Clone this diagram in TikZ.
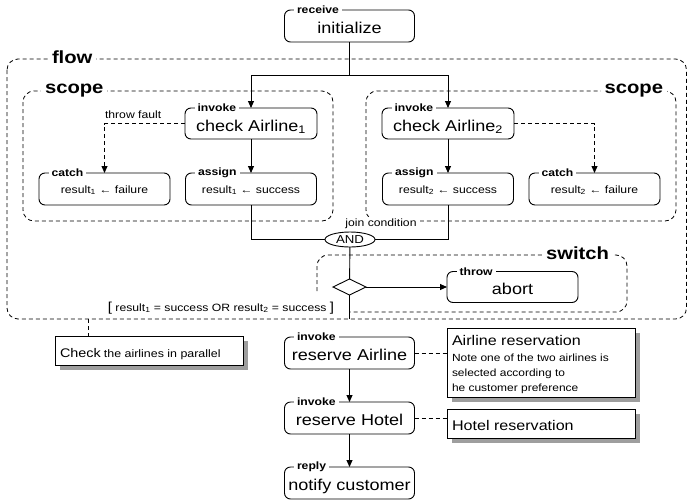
\documentclass[tikz,border=0pt]{standalone}
\usepackage{fontspec}
\setmainfont{Liberation Sans}[FakeStretch=1.15]
\usetikzlibrary{arrows.meta,shapes.geometric,shadows}

\newcommand{\bigtxt}{\fontsize{15.7}{17}\selectfont}
\newcommand{\smalltxt}{\fontsize{10.6}{12}\selectfont}
\newcommand{\bracketed}[1]{{\fontsize{13}{14}\selectfont[}\ #1\ {\fontsize{13}{14}\selectfont]}}

\begin{document}
\begin{tikzpicture}[x=1pt,y=-1pt,
  every node/.style={inner sep=0pt, outer sep=0pt},
  wire/.style={line width=0.9pt},
  tip/.style={-{Triangle[length=7pt,width=6pt]}},
  hint/.style={line width=0.8pt, dash pattern=on 4pt off 3pt},
  activity/.style={draw, line width=0.9pt, rounded corners=6pt,
    minimum width=130pt, minimum height=32pt,
    font=\bigtxt, text height=15pt, text depth=0pt},
  small activity/.style={activity, minimum width=131pt,
    font=\smalltxt, text height=8pt},
  kind/.style={fill=white, inner xsep=3pt, inner ysep=1pt, anchor=west,
    font=\bfseries\fontsize{10.6}{12}\selectfont},
  region/.style={hint, rounded corners=11pt},
  region label/.style={fill=white, inner xsep=4pt, inner ysep=1pt,
    font=\bfseries\fontsize{17.6}{18}\selectfont},
  note/.style={draw, line width=0.9pt, fill=white,
    drop shadow={shadow xshift=4.5pt, shadow yshift=-4.5pt,
      fill=black!38, opacity=1}},
]
\useasboundingbox (0,0) rectangle (688,501);

% ---------- regions ----------
\draw[region] (7,59) rectangle (686.5,319);
\node[region label, anchor=base west] (flow-l) at (48,63) {flow};

\draw[region] (23,91) rectangle (333,221);
\node[region label, anchor=base west] (sc1-l) at (41,93) {scope};

\draw[region] (366,91) rectangle (676,221);
\node[region label, anchor=base east] (sc2-l) at (667,93) {scope};

\draw[region] (317,291) -- (317,255) -- (627,255) -- (627,312) -- (350,312);
\node[region label, anchor=base east] (sw-l) at (613,259) {switch};

\node[fill=white, inner xsep=3pt, inner ysep=1pt, font=\smalltxt, anchor=base]
  (jc) at (381,226) {join condition};

% ---------- activities ----------
\node[activity] (init) at (349.5,26) {initialize};
\node[kind] (init-k) at ([xshift=9.5pt]init.north west) {receive};

\node[activity, minimum width=132pt, minimum height=31pt] (ca1) at (251,123.5)
  {check Airline\textsubscript{1}};
\node[kind] (ca1-k) at ([xshift=9.5pt]ca1.north west) {invoke};
\node[activity, minimum width=132pt, minimum height=31pt] (ca2) at (448,123.5)
  {check Airline\textsubscript{2}};
\node[kind] (ca2-k) at ([xshift=9.5pt]ca2.north west) {invoke};

\node[small activity] (cat1) at (104.5,189) {result\textsubscript{1} ← failure};
\node[kind] (cat1-k) at ([xshift=9.5pt]cat1.north west) {catch};
\node[small activity] (as1) at (251,189) {result\textsubscript{1} ← success};
\node[kind] (as1-k) at ([xshift=9.5pt]as1.north west) {assign};
\node[small activity] (as2) at (448,189) {result\textsubscript{2} ← success};
\node[kind] (as2-k) at ([xshift=9.5pt]as2.north west) {assign};
\node[small activity] (cat2) at (594.5,189) {result\textsubscript{2} ← failure};
\node[kind] (cat2-k) at ([xshift=9.5pt]cat2.north west) {catch};

\node[draw, wire, ellipse, minimum width=50pt, minimum height=15pt,
  font=\fontsize{11.5}{12}\selectfont] (and) at (350,239.5) {AND};
\node[draw, wire, diamond, minimum width=33pt, minimum height=16pt]
  (dia) at (349.5,287) {};

\node[activity, minimum width=131pt, minimum height=31pt] (abort) at (512.5,287) {abort};
\node[kind] (abort-k) at ([xshift=9.5pt]abort.north west) {throw};

\node[activity] (ra) at (349.5,353) {reserve Airline};
\node[kind] (ra-k) at ([xshift=9.5pt]ra.north west) {invoke};
\node[activity] (rh) at (349.5,418) {reserve Hotel};
\node[kind] (rh-k) at ([xshift=9.5pt]rh.north west) {invoke};
\node[activity] (rep) at (349.5,483) {notify customer};
\node[kind] (rep-k) at ([xshift=9.5pt]rep.north west) {reply};

% ---------- control flow ----------
\coordinate (split) at (349.5,75);
\draw[wire] (init) -- (split);
\draw[wire, tip] (split) -| (ca1);
\draw[wire, tip] (split) -| (ca2);
\draw[wire, tip] (ca1) -- (as1);
\draw[wire, tip] (ca2) -- (as2);
\draw[hint, tip] (ca1) -| (cat1);
\draw[hint, tip] (ca2) -| (cat2);
\node[anchor=base west, font=\smalltxt] (tf) at (105,118) {throw fault};

\draw[wire] (as1) |- (and);
\draw[wire] (as2) |- (and);
\draw[wire] (and) -- (dia);
\draw[wire, tip] (dia) -- (abort);
\coordinate (fexit) at (349.5,319);
\draw[wire] (dia) -- (fexit);

\node[anchor=base, font=\smalltxt] (cond) at (221,311)
  {\bracketed{result\textsubscript{1} = success OR result\textsubscript{2} = success}};

\draw[wire, tip] (ra) -- (rh);
\draw[wire, tip] (rh) -- (rep);

% ---------- notes ----------
\node[note, minimum width=188pt, minimum height=29pt] (n0) at (149,350.5) {};
\node[anchor=base west] (n0-t) at (60,357)
  {{\fontsize{12.5}{14}\selectfont Check} {\fontsize{10.8}{12}\selectfont the airlines in parallel}};
\coordinate (fnote) at (88,319);
\draw[hint] (fnote) -- (fnote |- n0.north);

\node[note, minimum width=188pt, minimum height=69pt] (n1) at (541,362.5) {};
\node[anchor=north west, align=left, font=\fontsize{10.4}{15}\selectfont] (n1-t) at (452,335)
  {{\fontsize{14}{16}\selectfont Airline reservation}\\[1pt]
   Note one of the two airlines is\\
   selected according to\\
   he customer preference};
\draw[hint] (ra.east) -- (ra.east -| n1.west);

\node[note, minimum width=188pt, minimum height=29pt] (n2) at (541,423.5) {};
\node[anchor=base west, font=\fontsize{14}{16}\selectfont] (n2-t) at (452,430) {Hotel reservation};
\draw[hint] (rh.east) -- (rh.east -| n2.west);
\end{tikzpicture}
\end{document}
